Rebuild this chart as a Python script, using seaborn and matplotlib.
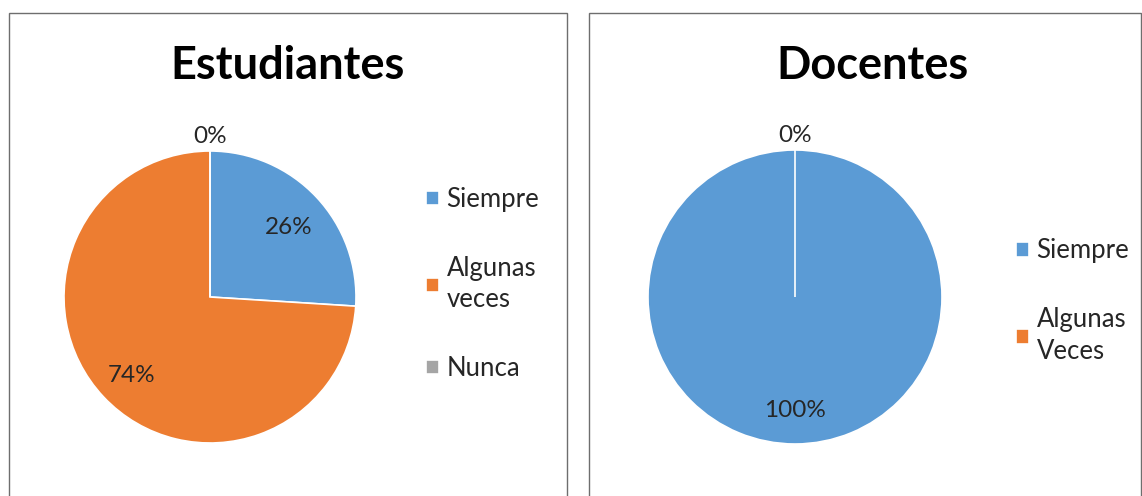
import numpy as np
import matplotlib
matplotlib.use("Agg")
import matplotlib.pyplot as plt
import seaborn as sns
from matplotlib.patches import Rectangle

# datos de las dos encuestas
est_labels = ["Siempre", "Algunas\nveces", "Nunca"]
est_values = [26, 74, 0]
doc_labels = ["Siempre", "Algunas\nVeces"]
doc_values = [100, 0]
colores = ["#5B9BD5", "#ED7D31", "#A5A5A5"]

sns.set_theme(style="white")
plt.rcParams['font.family'] = ['Lato', 'DejaVu Sans']

fig = plt.figure(figsize=(11.42, 4.96), dpi=100)
W, H = 1142, 496


def px(x0, y0, w, h):
    # caja en pixeles (origen arriba a la izquierda) -> fraccion de figura
    return [x0 / W, 1 - (y0 + h) / H, w / W, h / H]


def dibujar_pie(rect, valores, etiquetas, titulo, cx_titulo, leg_anchor):
    ax = fig.add_axes(rect)
    wedges, _, textos = ax.pie(
        valores, colors=colores[:len(valores)], startangle=90, counterclock=False,
        autopct=lambda p: f"{p:.0f}%", pctdistance=0.74,
        wedgeprops={'edgecolor': 'white', 'linewidth': 1.2},
        textprops={'fontsize': 17.5, 'color': '#262626'})
    # las etiquetas de 0% van fuera del pastel
    for w, t, v in zip(wedges, textos, valores):
        if v == 0:
            ang = np.deg2rad((w.theta1 + w.theta2) / 2)
            t.set_position((1.13 * np.cos(ang), 1.13 * np.sin(ang)))
        x, y = t.get_position()
        t.set_position((x, y - 0.03))
    ax.set_xlim(-1, 1)
    ax.set_ylim(-1, 1)
    ax.set_aspect('equal')
    fig.text(cx_titulo / W, 1 - 66 / H, titulo, ha='center', va='center',
             fontsize=32.5, fontweight='bold', color='black')
    leg = fig.legend(wedges, etiquetas, loc='center left',
                     bbox_to_anchor=(leg_anchor[0] / W, 1 - leg_anchor[1] / H),
                     frameon=False, fontsize=18.5, handlelength=0.5, handleheight=0.5,
                     handletextpad=0.3, labelspacing=1.7, borderaxespad=0,
                     borderpad=0, labelcolor='#262626')
    for t in leg.get_texts():
        t.set_linespacing(1.33)
    return ax


# marcos de cada grafico
fig.add_artist(Rectangle((9 / W, -0.01), 558 / W, (496 - 13) / H + 0.01,
                         transform=fig.transFigure, fill=False,
                         edgecolor='#6e6e6e', linewidth=1))
fig.add_artist(Rectangle((589 / W, -0.01), 552 / W, (496 - 13) / H + 0.01,
                         transform=fig.transFigure, fill=False,
                         edgecolor='#6e6e6e', linewidth=1))

dibujar_pie(px(64, 151, 292, 292), est_values, est_labels, "Estudiantes", 288, (426, 284))
dibujar_pie(px(648, 150, 294, 294), doc_values, doc_labels, "Docentes", 873, (1016, 301))

fig.savefig("out.png", dpi=100)
